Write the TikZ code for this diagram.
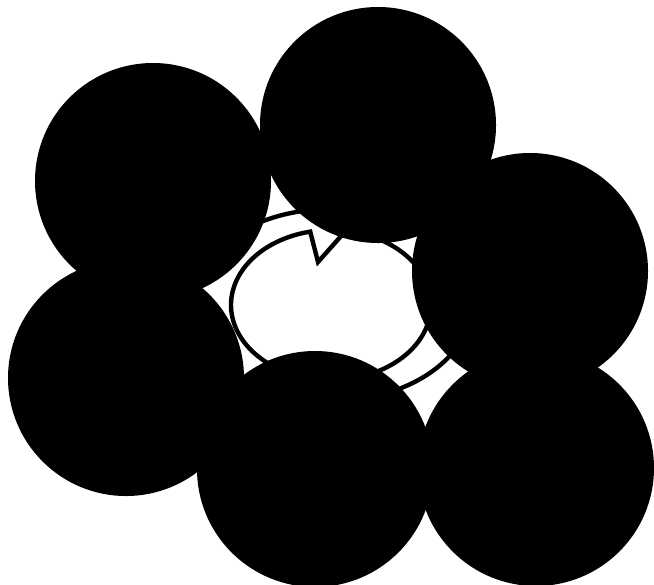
\documentclass[tikz,border=0pt]{standalone}
\usepackage{tikz}
\usetikzlibrary{positioning}
\definecolor{cInk} {HTML}{000000}
\definecolor{cBand}{HTML}{FFFFFF}
\tikzset{
  atom/.style ={circle,fill=cInk,draw=none,inner sep=0pt,minimum size=59mm},
  band/.style ={draw=cInk,fill=cBand,line width=1.1mm,line join=miter},
}
\begin{document}
\begin{tikzpicture}[x=0.25mm, y=-0.25mm]
\useasboundingbox (0,0) rectangle (654,584);
\def\xO{331}   % centre of the ring arrow
\def\yO{305}

% the ring arrow, seen at a slant; head at the top, pointing clockwise
\coordinate (barbOut) at (294,183);
\coordinate (tip)     at (366,208);
\coordinate (barbIn)  at (318,262);
\draw[band] plot[domain=62:-258,samples=160] ({\xO+140*cos(\x)},{\yO-96*sin(\x)})
  -- (barbOut) -- (tip) -- (barbIn)
  -- plot[domain=-258:62,samples=160] ({\xO+100*cos(\x)},{\yO-75*sin(\x)}) -- cycle;

% the six atoms of the ring, on top of the arrow
\node[atom] (atA) at (153,181) {};
\node[atom] (atB) at (378,125) {};
\node[atom] (atC) at (530,271) {};
\node[atom] (atD) at (126,378) {};
\node[atom] (atE) at (315,469) {};
\node[atom] (atF) at (536,468) {};
\end{tikzpicture}
\end{document}
